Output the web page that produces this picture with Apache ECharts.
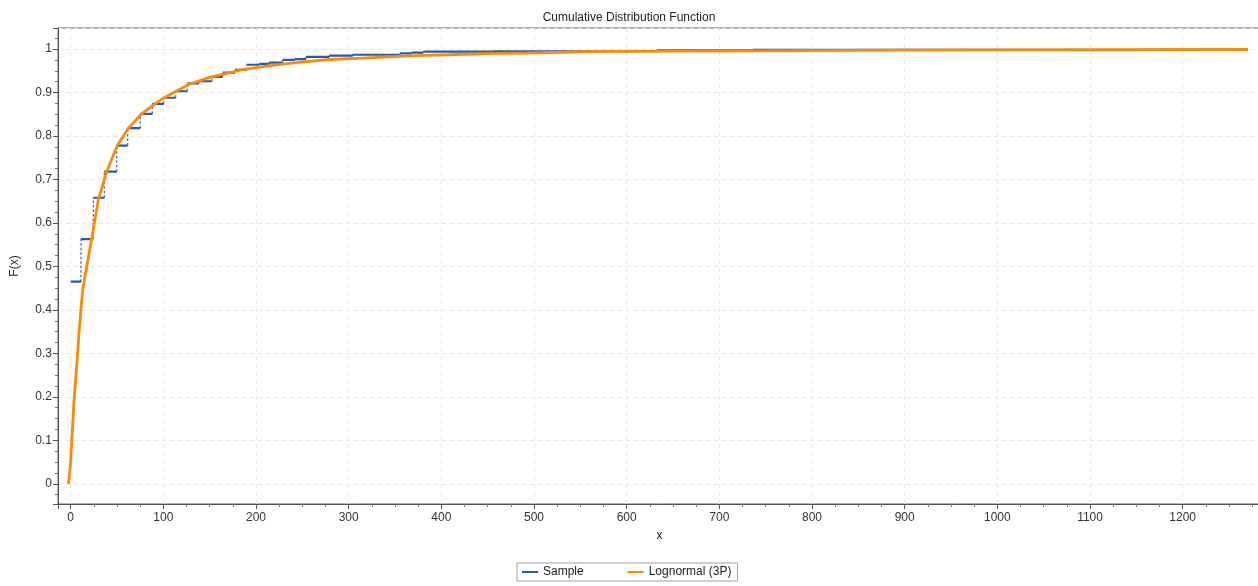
<!DOCTYPE html>
<html>
<head>
<meta charset="utf-8">
<script src="https://cdn.jsdelivr.net/npm/echarts@6/dist/echarts.min.js"></script>
<style>
html,body{margin:0;padding:0;background:#fff;}
#chart{width:1258px;height:586px;}
</style>
</head>
<body>
<div id="chart"></div>
<script>
// ---- data ----
const titleText = 'Cumulative Distribution Function';
const xAxisName = 'x';
const yAxisName = 'F(x)';
const seriesNames = ['Sample', 'Lognormal (3P)'];

// empirical CDF: x where each step starts, and the step's F value
const sampleX = [0, 11.1, 24.4, 36.3, 49.6, 61.5, 75.1, 88.1, 100.4, 113.3, 125.8, 138.4, 152.2, 164.0, 177.3, 189.9, 203.5, 214.3, 228.8, 242.0, 253.9, 279.1, 304.3, 355.3, 368.0, 380.5, 456.0, 632.4, 736.3, 1258.6];
const sampleF = [0.465, 0.563, 0.658, 0.718, 0.778, 0.818, 0.851, 0.874, 0.888, 0.903, 0.921, 0.926, 0.936, 0.946, 0.952, 0.964, 0.966, 0.969, 0.975, 0.977, 0.982, 0.985, 0.987, 0.990, 0.992, 0.994, 0.995, 0.997, 0.9985, 1.0];
const sampleEndX = 1270.5;

// fitted lognormal (3P) CDF
const fitX = [-2.4, -1.8, -0.4, 1.7, 3.6, 6.5, 9.0, 11.9, 13.6, 17.3, 22.6, 29.8, 38.8, 50.3, 62.2, 76.6, 91, 100, 113.6, 128, 150, 172, 184, 215, 243, 279, 314, 343, 372, 408, 458, 493, 568, 729, 890, 1050, 1270.5];
const fitF = [0, 0.002, 0.040, 0.117, 0.193, 0.270, 0.347, 0.423, 0.454, 0.500, 0.563, 0.653, 0.718, 0.778, 0.818, 0.851, 0.874, 0.887, 0.903, 0.919, 0.935, 0.946, 0.952, 0.962, 0.969, 0.976, 0.979, 0.982, 0.985, 0.987, 0.990, 0.991, 0.9947, 0.9961, 0.9977, 0.9983, 0.9990];

// ---- build series data ----
const stepFlat = [];
const stepRise = [];
for (let i = 0; i < sampleX.length; i++) {
  const x0 = sampleX[i];
  const x1 = i + 1 < sampleX.length ? sampleX[i + 1] : sampleEndX;
  stepFlat.push([x0, sampleF[i]], [x1, sampleF[i]], [x1, '-']);
  if (i + 1 < sampleX.length) {
    stepRise.push([x1, sampleF[i]], [x1, sampleF[i + 1]], [x1, '-']);
  }
}
const fitData = fitX.map((x, i) => [x, fitF[i]]);

const blue = '#2559b3';
const orange = '#ff8a00';
const font = 'Liberation Sans, Arial, sans-serif';

const chart = echarts.init(document.getElementById('chart'), null, {renderer: 'canvas'});
chart.setOption({
  animation: false,
  backgroundColor: '#ffffff',
  textStyle: {fontFamily: font},
  title: {
    text: titleText,
    left: 'center',
    top: 7,
    textStyle: {fontSize: 12, fontWeight: 'normal', color: '#222', fontFamily: font}
  },
  legend: {
    data: [
      {name: seriesNames[0], icon: 'rect'},
      {name: seriesNames[1], icon: 'rect'}
    ],
    left: 517,
    top: 563,
    padding: [3, 6, 3, 5],
    borderColor: '#a0a0a0',
    borderWidth: 1,
    itemWidth: 16,
    itemHeight: 2,
    itemGap: 44,
    textStyle: {fontSize: 12, color: '#222', fontFamily: font}
  },
  grid: {
    left: 58,
    top: 28,
    width: 1203,
    height: 476,
    show: true,
    borderColor: '#666',
    borderWidth: 1,
    containLabel: false,
    outerBoundsMode: 'none'
  },
  xAxis: {
    type: 'value',
    min: -13.7,
    max: 1284.5,
    minInterval: 100,
    maxInterval: 100,
    splitNumber: 13,
    name: xAxisName,
    nameLocation: 'middle',
    nameGap: 26,
    nameTextStyle: {fontSize: 12, color: '#222', fontFamily: font},
    axisLine: {show: true, onZero: false, lineStyle: {color: '#555', width: 1}},
    axisTick: {show: true, length: 5, lineStyle: {color: '#555'}},
    minorTick: {show: true, splitNumber: 4, length: 3, lineStyle: {color: '#777'}},
    axisLabel: {fontSize: 12, color: '#333', margin: 8, showMinLabel: false, showMaxLabel: false, fontFamily: font,
      formatter: v => String(Math.round(v))},
    splitLine: {show: true, lineStyle: {color: '#e8e8e8', type: [4, 4], width: 1}}
  },
  yAxis: {
    type: 'value',
    min: -0.0465,
    max: 1.0485,
    minInterval: 0.1,
    maxInterval: 0.1,
    splitNumber: 11,
    name: yAxisName,
    nameLocation: 'middle',
    nameGap: 37,
    nameRotate: 90,
    nameTextStyle: {fontSize: 12, color: '#222', fontFamily: font},
    axisLine: {show: true, onZero: false, lineStyle: {color: '#555', width: 1}},
    axisTick: {show: true, length: 5, lineStyle: {color: '#555'}},
    minorTick: {show: true, splitNumber: 4, length: 3, lineStyle: {color: '#777'}},
    axisLabel: {fontSize: 12, color: '#333', margin: 6, showMinLabel: false, showMaxLabel: false, fontFamily: font,
      formatter: v => String(Math.round(v * 10) / 10)},
    splitLine: {show: true, lineStyle: {color: '#e8e8e8', type: [4, 4], width: 1}}
  },
  series: [
    {
      name: 'Sample risers',
      type: 'line',
      data: stepRise,
      showSymbol: false,
      symbol: 'none',
      connectNulls: false,
      silent: true,
      lineStyle: {color: '#3d6fc4', width: 1.3, type: [2.5, 2]},
      z: 2
    },
    {
      name: seriesNames[0],
      type: 'line',
      data: stepFlat,
      showSymbol: false,
      symbol: 'none',
      connectNulls: false,
      itemStyle: {color: blue},
      lineStyle: {color: blue, width: 2.2},
      z: 3
    },
    {
      name: seriesNames[1],
      type: 'line',
      data: fitData,
      showSymbol: false,
      symbol: 'none',
      smooth: false,
      itemStyle: {color: orange},
      lineStyle: {color: orange, width: 2.8},
      z: 4
    }
  ]
});
</script>
</body>
</html>
